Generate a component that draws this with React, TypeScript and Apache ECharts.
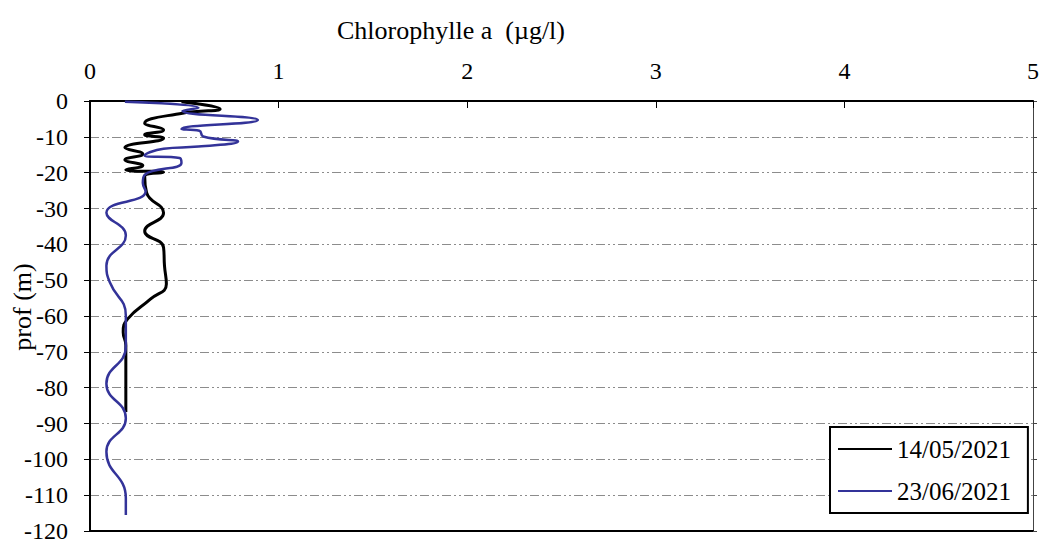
import React, { useEffect, useRef } from "react";
import * as echarts from "echarts";

const xTitle = "Chlorophylle a  (µg/l)";
const yTitle = "prof (m)";
const seriesNames = ["14/05/2021", "23/06/2021"];

// [chlorophylle (µg/l), profondeur (m)]
const may14: [number, number][] = [
  [0.485, -0.2], [0.69, -2.2], [0.49, -3.4], [0.29, -6.2], [0.39, -8.1], [0.29, -9.4],
  [0.39, -10.4], [0.185, -13.0], [0.28, -14.8], [0.185, -16.4], [0.28, -18.0], [0.19, -19.2],
  [0.39, -19.9], [0.29, -21.0], [0.3, -25.6], [0.39, -31.2], [0.29, -36.3], [0.39, -40.9],
  [0.395, -46.0], [0.405, -51.1], [0.32, -55.3], [0.2, -60.8], [0.176, -64.5], [0.19, -68.2],
  [0.19, -86.8],
];

const jun23: [number, number][] = [
  [0.185, -0.2], [0.575, -1.9], [0.49, -2.8], [0.89, -5.3], [0.485, -7.8], [0.58, -8.3],
  [0.6, -9.9], [0.785, -11.3], [0.575, -12.7], [0.39, -13.3], [0.29, -15.2], [0.475, -15.9],
  [0.485, -17.3], [0.29, -20.6], [0.28, -22.9], [0.295, -25.2], [0.087, -31.2], [0.19, -37.5],
  [0.087, -46.0], [0.105, -50.6], [0.19, -59.9], [0.19, -68.5], [0.087, -78.9],
  [0.19, -88.5], [0.087, -97.9], [0.19, -110.8], [0.19, -115.5],
];

const xMin = 0, xMax = 5, xStep = 1;
const yMin = -120, yMax = 0, yStep = 10;

const FONT = "'Liberation Serif', 'Times New Roman', serif";

export default function App() {
  const ref = useRef<HTMLDivElement>(null);
  useEffect(() => {
    if (!ref.current) return;
    const chart = echarts.init(ref.current, undefined, { renderer: "svg" });
    const gridLine = {
      show: true,
      lineStyle: { color: "#8c8c8c", width: 1, type: [9, 3, 2, 3, 2, 3] as any },
    };
    chart.setOption({
      animation: false,
      backgroundColor: "#fff",
      grid: { left: 90, top: 101, right: 10, bottom: 10 },
      legend: {
        orient: "vertical",
        left: 830,
        top: 427,
        padding: [9, 17, 9, 8],
        itemGap: 16,
        itemWidth: 54,
        itemHeight: 2,
        borderColor: "#000",
        borderWidth: 2,
        backgroundColor: "#fff",
        textStyle: { fontFamily: FONT, fontSize: 25, color: "#000", lineHeight: 26 },
        data: seriesNames.map((n) => ({ name: n, icon: "rect" })),
      },
      xAxis: [
        {
          type: "value",
          position: "top",
          min: xMin,
          max: xMax,
          interval: xStep,
          axisLine: { show: true, onZero: false, lineStyle: { color: "#000", width: 2 } },
          axisTick: { show: true, inside: true, length: 7, lineStyle: { color: "#000", width: 1 } },
          axisLabel: { fontFamily: FONT, fontSize: 24, color: "#000", margin: 18 },
          splitLine: { show: false },
        },
        {
          type: "value",
          position: "bottom",
          min: xMin,
          max: xMax,
          interval: xStep,
          axisLine: { show: true, onZero: false, lineStyle: { color: "#000", width: 2 } },
          axisTick: { show: false },
          axisLabel: { show: false },
          splitLine: { show: false },
        },
      ],
      yAxis: [
        {
          type: "value",
          position: "left",
          min: yMin,
          max: yMax,
          interval: yStep,
          axisLine: { show: true, onZero: false, lineStyle: { color: "#000", width: 2 } },
          axisTick: { show: true, length: 6, lineStyle: { color: "#000", width: 1 } },
          axisLabel: { fontFamily: FONT, fontSize: 24, color: "#000", margin: 22 },
          splitLine: gridLine,
        },
        {
          type: "value",
          position: "right",
          min: yMin,
          max: yMax,
          interval: yStep,
          axisLine: { show: true, onZero: false, lineStyle: { color: "#444", width: 1 } },
          axisTick: { show: true, length: 4, lineStyle: { color: "#444", width: 1 } },
          axisLabel: { show: false },
          splitLine: { show: false },
        },
      ],
      graphic: [
        {
          type: "text",
          x: 451,
          y: 30,
          style: {
            text: xTitle,
            fontFamily: FONT,
            fontSize: 26,
            fill: "#000",
            textAlign: "center",
            textVerticalAlign: "middle",
          },
        },
        {
          type: "text",
          x: 22,
          y: 307,
          rotation: Math.PI / 2,
          style: {
            text: yTitle,
            fontFamily: FONT,
            fontSize: 26,
            fill: "#000",
            textAlign: "center",
            textVerticalAlign: "middle",
          },
        },
      ],
      series: [
        {
          name: seriesNames[0],
          type: "line",
          data: may14,
          smooth: 0.5,
          symbol: "none",
          xAxisIndex: 0,
          yAxisIndex: 0,
          lineStyle: { color: "#000", width: 3 },
          itemStyle: { color: "#000" },
        },
        {
          name: seriesNames[1],
          type: "line",
          data: jun23,
          smooth: 0.5,
          symbol: "none",
          xAxisIndex: 0,
          yAxisIndex: 0,
          lineStyle: { color: "#333399", width: 2.5 },
          itemStyle: { color: "#333399" },
        },
      ],
    });
    return () => chart.dispose();
  }, []);
  return <div ref={ref} style={{ width: 1043, height: 543, position: "absolute", left: 0, top: 0 }} />;
}
